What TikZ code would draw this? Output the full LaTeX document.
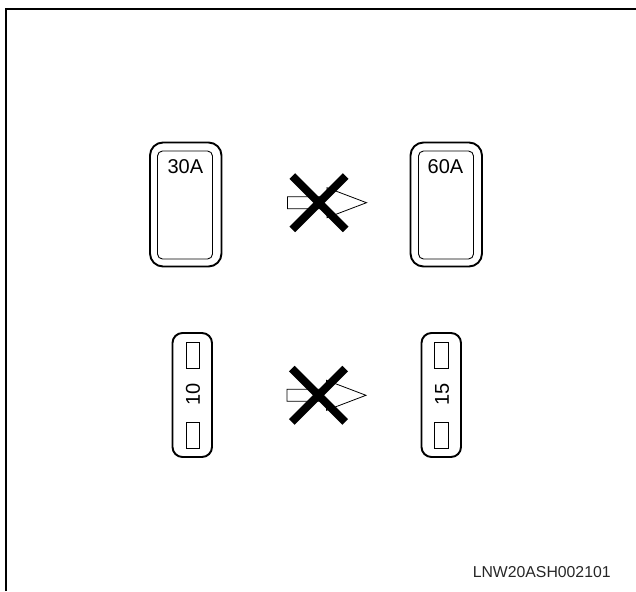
\documentclass[tikz,border=0pt]{standalone}
\usepackage{fontspec}
\setmainfont{Liberation Sans}
\tikzset{x=1pt,y=-1pt,
 outer/.style={draw,line width=1.9pt,rounded corners=13pt},
 inner/.style={draw,line width=0.9pt,rounded corners=5pt},
 slot/.style={draw,line width=0.9pt},
 arrowshape/.style={draw,line width=0.8pt,fill=white},
 cross/.style={line width=8pt},
 lbl/.style={inner sep=0pt,font=\fontsize{20}{20}\selectfont}}
\begin{document}
\begin{tikzpicture}
\useasboundingbox (0,0) rectangle (636,591);
\draw[line width=2pt] (6,591) -- (6,9) -- (636,9);
% large fuses
\draw[outer] (150,142.5) rectangle (221.5,266.5);
\draw[inner] (157.5,151) rectangle (212.5,259);
\node[lbl] (a) at (185.3,166.5) {30A};
\draw[outer] (410.5,142.5) rectangle (482,266.5);
\draw[inner] (418.5,151) rectangle (473.5,259);
\node[lbl] (b) at (445.5,166.5) {60A};
% small fuses
\draw[outer,rounded corners=10pt] (172.5,333) rectangle (212,457);
\draw[slot] (186,342.5) rectangle (199,368);
\draw[slot] (186,422.5) rectangle (199,448);
\node[lbl,rotate=90] (c) at (193,394.5) {10};
\draw[outer,rounded corners=10pt] (421.5,333) rectangle (461,457);
\draw[slot] (434.5,342.5) rectangle (448,368);
\draw[slot] (434.5,422.5) rectangle (448,448);
\node[lbl,rotate=90] (d) at (442,394.5) {15};
% arrows and crosses
\foreach \cx/\cy in {319/202.7,318.5/395.3}{
 \draw[arrowshape] (\cx-31.5,\cy-6) -- (\cx+8,\cy-6) -- (\cx+8,\cy-15) -- (\cx+47.5,\cy) -- (\cx+8,\cy+15) -- (\cx+8,\cy+6) -- (\cx-31.5,\cy+6) -- cycle;
 \draw[cross] (\cx-26.7,\cy-26.7) -- (\cx+26.7,\cy+26.7);
 \draw[cross] (\cx+26.7,\cy-26.7) -- (\cx-26.7,\cy+26.7);
}
\node[inner sep=0pt,font=\fontsize{15.8}{16}\selectfont,text=black!85] (e) at (541.7,571.7) {LNW20ASH002101};
\end{tikzpicture}
\end{document}
